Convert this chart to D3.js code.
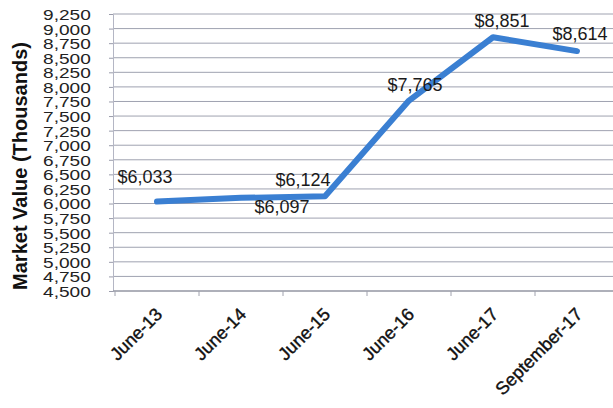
<!DOCTYPE html>
<html>
<head>
<meta charset="utf-8">
<script src="https://cdn.jsdelivr.net/npm/d3@7"></script>
<style>
  html, body { margin: 0; padding: 0; background: #fff; }
  svg { display: block; }
  text { font-family: "Liberation Sans", Arial, sans-serif; }
</style>
</head>
<body>
<svg id="chart" width="613" height="408"></svg>
<script>
// Portfolio market value by period (thousands of dollars)
const periods = ["June-13", "June-14", "June-15", "June-16", "June-17", "September-17"];
const marketValues = [6033, 6097, 6124, 7765, 8851, 8614];
const valueLabels = ["$6,033", "$6,097", "$6,124", "$7,765", "$8,851", "$8,614"];
const yTickValues = [4500, 4750, 5000, 5250, 5500, 5750, 6000, 6250, 6500, 6750,
                     7000, 7250, 7500, 7750, 8000, 8250, 8500, 8750, 9000, 9250];

const svg = d3.select("#chart");
const plot = { left: 115, right: 619, top: 14, bottom: 291 };

const x = d3.scaleBand().domain(periods).range([plot.left, plot.right]).padding(0);
const cx = d => x(d) + x.bandwidth() / 2;
const y = d3.scaleLinear().domain([4500, 9250]).range([plot.bottom, plot.top]);

// horizontal gridlines
svg.append("g")
  .selectAll("line")
  .data(yTickValues)
  .join("line")
  .attr("x1", plot.left - 2).attr("x2", 613)
  .attr("y1", d => y(d)).attr("y2", d => y(d))
  .attr("stroke", "#9fa2b0").attr("stroke-width", 1);

// y axis
const yAxis = svg.append("g")
  .attr("transform", `translate(${plot.left - 2},0)`)
  .call(d3.axisLeft(y).tickValues(yTickValues).tickSize(4).tickPadding(18)
    .tickFormat(d3.format(",")));
yAxis.select(".domain").attr("stroke", "#b4b6c4");
yAxis.selectAll(".tick line").attr("stroke", "#9a9cab");
yAxis.selectAll(".tick text")
  .attr("font-size", 18)
  .attr("fill", "#222")
  .attr("dy", "0.36em")
  .attr("x", -3)
  .attr("transform", "translate(-19,0) scale(1.06,0.84)");

// x axis with tick marks at category boundaries
const xAxisG = svg.append("g").attr("transform", `translate(0,${plot.bottom})`);
xAxisG.append("line")
  .attr("x1", plot.left - 2).attr("x2", 613)
  .attr("y1", 0).attr("y2", 0)
  .attr("stroke", "#8e909c").attr("stroke-width", 1.2);
xAxisG.selectAll("line.tick")
  .data(periods)
  .join("line")
  .attr("class", "tick")
  .attr("x1", d => x(d)).attr("x2", d => x(d))
  .attr("y1", 0).attr("y2", 5)
  .attr("stroke", "#a0a2ae");
xAxisG.selectAll("text")
  .data(periods)
  .join("text")
  .attr("transform", d => `translate(${cx(d) + 2},${20}) rotate(-45)`)
  .attr("text-anchor", "end")
  .attr("dy", "0.35em")
  .attr("font-size", 18)
  .attr("fill", "#111")
  .attr("stroke", "#111")
  .attr("stroke-width", 0.4)
  .text(d => d);

// y title
svg.append("text")
  .attr("transform", `translate(27,166) rotate(-90)`)
  .attr("text-anchor", "middle")
  .attr("font-size", 20)
  .attr("font-weight", "bold")
  .attr("fill", "#111")
  .text("Market Value (Thousands)");

// value line
const line = d3.line()
  .x((d, i) => cx(periods[i]))
  .y(d => y(d));
svg.append("path")
  .datum(marketValues)
  .attr("d", line)
  .attr("fill", "none")
  .attr("stroke", "#3a7fd2")
  .attr("stroke-width", 6)
  .attr("stroke-linejoin", "round")
  .attr("stroke-linecap", "round");

// data labels, nudged around each point
const nudges = [[-12, -25], [41, 9], [-22, -17], [6, -16], [9, -17], [3, -17]];
svg.append("g")
  .selectAll("text")
  .data(marketValues)
  .join("text")
  .attr("x", (d, i) => cx(periods[i]) + nudges[i][0])
  .attr("y", (d, i) => y(d) + nudges[i][1])
  .attr("dy", "0.35em")
  .attr("text-anchor", "middle")
  .attr("font-size", 18)
  .attr("fill", "#1a1a1a")
  .text((d, i) => valueLabels[i]);
</script>
</body>
</html>
